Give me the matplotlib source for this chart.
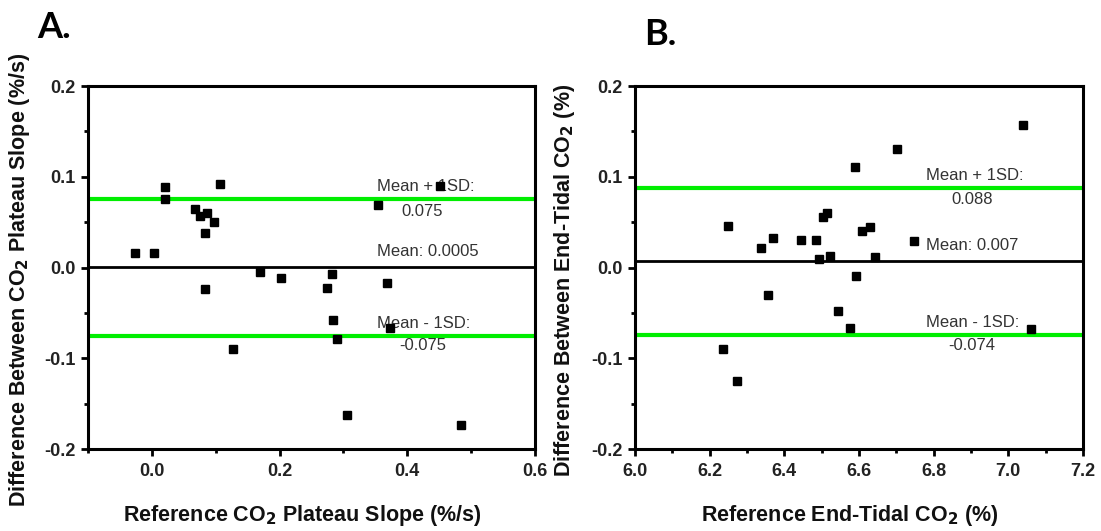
import matplotlib
matplotlib.use('Agg')
import matplotlib.pyplot as plt
from matplotlib.ticker import MultipleLocator, FormatStrFormatter

plt.rcParams['font.family'] = ['Liberation Sans', 'DejaVu Sans']
plt.rcParams['axes.unicode_minus'] = False

# panel A: CO2 plateau slope
slope_ref = [-0.026, 0.004, 0.021, 0.021, 0.067, 0.075, 0.086, 0.098, 0.084, 0.106,
             0.084, 0.127, 0.169, 0.202, 0.282, 0.274, 0.284, 0.290, 0.306, 0.368,
             0.354, 0.451, 0.373, 0.484]
slope_diff = [0.016, 0.016, 0.089, 0.075, 0.064, 0.057, 0.060, 0.050, 0.038, 0.092,
              -0.024, -0.090, -0.005, -0.012, -0.007, -0.023, -0.058, -0.079, -0.163, -0.017,
              0.069, 0.090, -0.067, -0.174]
slope_lines = [0.075, 0.0005, -0.075]   # mean + 1SD, mean, mean - 1SD

# panel B: end-tidal CO2
etco2_ref = [7.040, 6.702, 6.590, 6.248, 6.337, 6.369, 6.446, 6.485, 6.505, 6.515,
             6.492, 6.522, 6.609, 6.629, 6.643, 6.748, 6.593, 6.357, 6.545, 6.577,
             7.062, 6.235, 6.274]
etco2_diff = [0.157, 0.131, 0.111, 0.046, 0.021, 0.032, 0.030, 0.030, 0.056, 0.060,
              0.009, 0.013, 0.040, 0.045, 0.012, 0.029, -0.009, -0.030, -0.048, -0.067,
              -0.068, -0.090, -0.125]
etco2_lines = [0.088, 0.007, -0.074]

fig = plt.figure(figsize=(11.01, 5.31), dpi=100)
axA = fig.add_axes([0.0799, 0.1544, 0.406, 0.6836])
axB = fig.add_axes([0.5767, 0.1544, 0.4069, 0.6836])

tick_font = dict(fontsize=13, fontweight='bold', color='#222222')
lab_font = dict(fontsize=15.5, fontweight='bold', color='#111111')
note_color = '#333333'


def draw_panel(ax, x, y, lines, xlim, xmajor, text_x, val_x):
    ax.axhline(lines[0], color='#00ee00', lw=3, zorder=1)
    ax.axhline(lines[2], color='#00ee00', lw=3, zorder=1)
    ax.axhline(lines[1], color='black', lw=2, zorder=1)
    ax.plot(x, y, 's', color='black', ms=6, zorder=3)

    ax.set_xlim(*xlim)
    ax.set_ylim(-0.2, 0.2)
    ax.xaxis.set_major_locator(MultipleLocator(xmajor))
    ax.xaxis.set_minor_locator(MultipleLocator(xmajor / 2))
    ax.yaxis.set_major_locator(MultipleLocator(0.1))
    ax.yaxis.set_minor_locator(MultipleLocator(0.05))
    ax.xaxis.set_major_formatter(FormatStrFormatter('%.1f'))
    ax.yaxis.set_major_formatter(FormatStrFormatter('%.1f'))
    ax.tick_params(which='both', direction='out', width=2, top=False, right=False)
    ax.tick_params(which='major', length=5, pad=4)
    ax.tick_params(axis='x', which='major', pad=5)
    ax.tick_params(which='minor', length=3)
    for lbl in ax.get_xticklabels() + ax.get_yticklabels():
        lbl.set(**tick_font)
    for s in ax.spines.values():
        s.set_linewidth(2.2)

    up, mean, lo = lines
    kw = dict(fontsize=12, color=note_color, zorder=2)
    ax.annotate('Mean + 1SD:', (text_x, up), xytext=(0, 9), textcoords='offset points',
                ha='left', va='center', **kw)
    ax.annotate(f'{up:g}', (val_x, up), xytext=(0, -8.5), textcoords='offset points',
                ha='center', va='center', **kw)
    ax.annotate(f'Mean: {mean:g}', (text_x, mean), xytext=(0, 11), textcoords='offset points',
                ha='left', va='center', **kw)
    ax.annotate('Mean - 1SD:', (text_x, lo), xytext=(0, 8.5), textcoords='offset points',
                ha='left', va='center', **kw)
    ax.annotate(f'{lo:g}', (val_x, lo), xytext=(0, -7.5), textcoords='offset points',
                ha='center', va='center', **kw)


draw_panel(axA, slope_ref, slope_diff, slope_lines, (-0.1, 0.6), 0.2, 0.352, 0.424)
draw_panel(axB, etco2_ref, etco2_diff, etco2_lines, (6.0, 7.2), 0.2, 6.779, 6.902)

axA.set_xlabel('Reference CO$_\\mathbf{2}$ Plateau Slope (%/s)', **lab_font)
axA.set_ylabel('Difference Between CO$_\\mathbf{2}$ Plateau Slope (%/s)', **lab_font)
axB.set_xlabel('Reference End-Tidal CO$_\\mathbf{2}$ (%)', **lab_font)
axB.set_ylabel('Difference Between End-Tidal CO$_\\mathbf{2}$ (%)', **lab_font)
axA.xaxis.set_label_coords(0.479, -0.15)
axB.xaxis.set_label_coords(0.48, -0.15)
axA.yaxis.set_label_coords(-0.125, 0.465)
axB.yaxis.set_label_coords(-0.129, 0.465)

fig.text(0.034, 0.928, 'A.', fontsize=26, fontweight='bold', family=['Lato', 'DejaVu Sans'])
fig.text(0.585, 0.916, 'B.', fontsize=26, fontweight='bold', family=['Lato', 'DejaVu Sans'])

fig.savefig('out.png', dpi=100)
